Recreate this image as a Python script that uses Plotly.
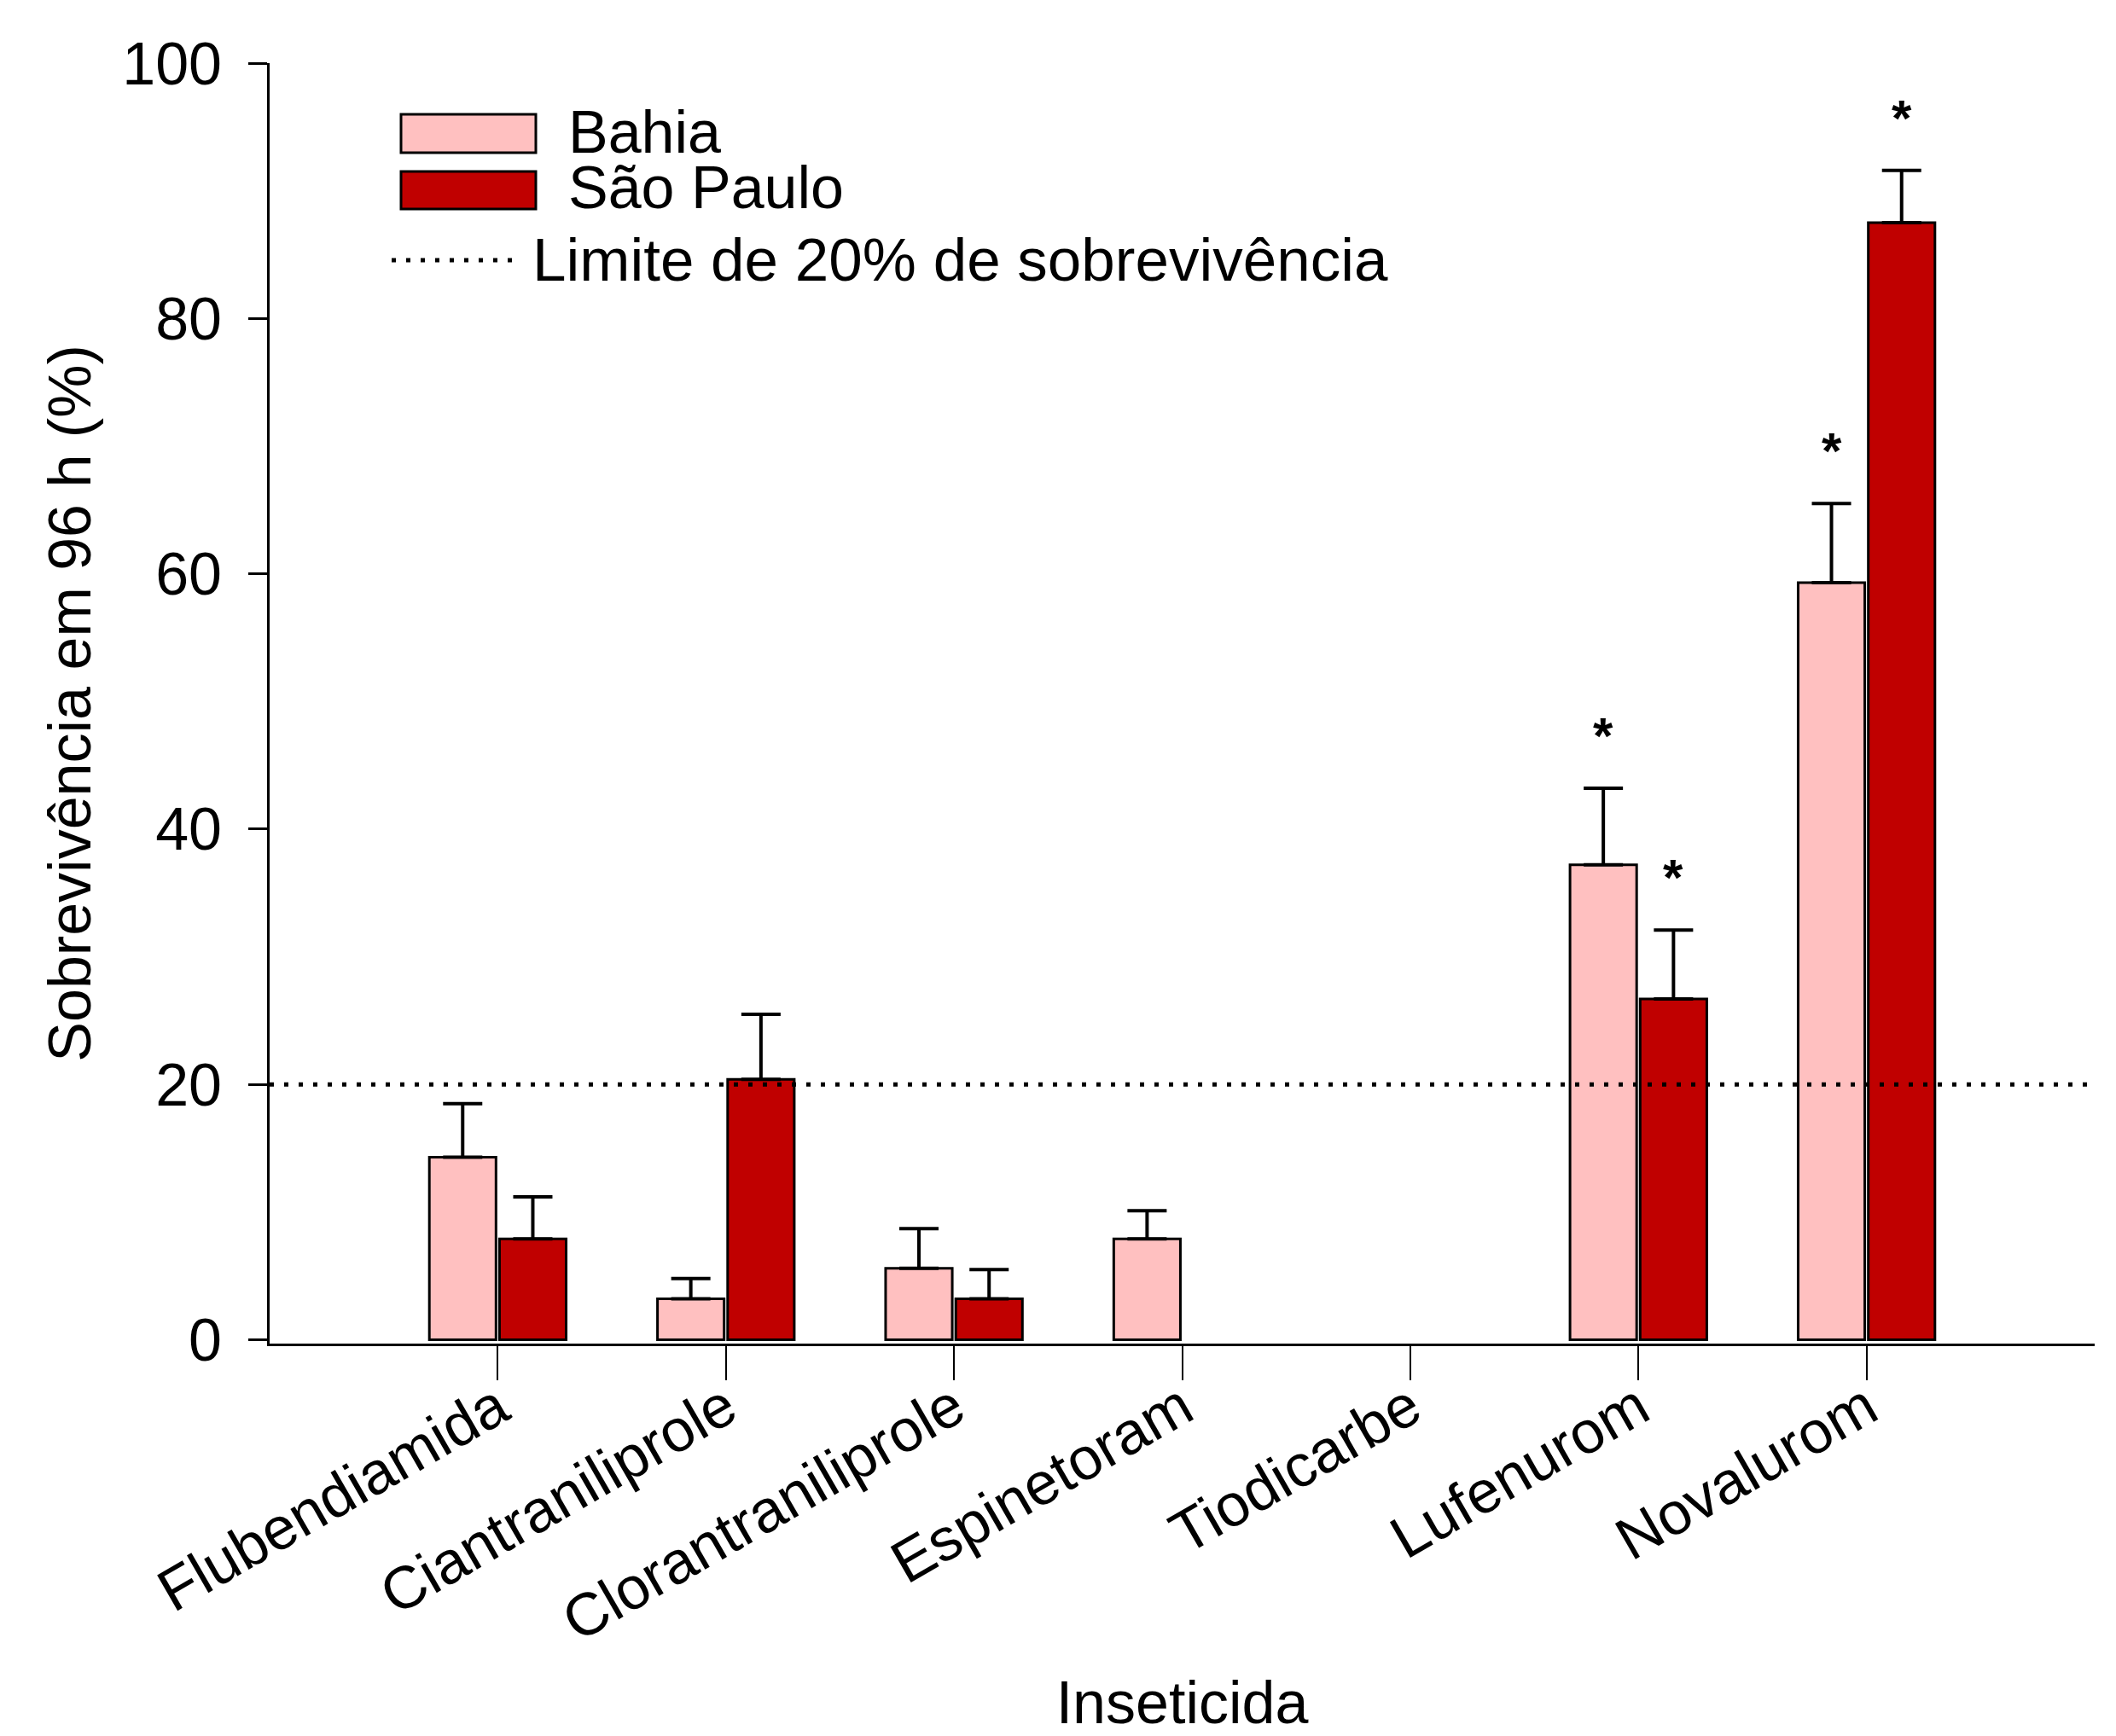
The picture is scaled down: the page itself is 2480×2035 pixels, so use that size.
import plotly.graph_objects as go

categories = ["Flubendiamida", "Ciantraniliprole", "Clorantraniliprole",
              "Espinetoram", "Tiodicarbe", "Lufenurom", "Novalurom"]
bahia = [14.3, 3.2, 5.6, 7.9, None, 37.2, 59.3]
bahia_err = [4.2, 1.6, 3.1, 2.2, None, 6.0, 6.2]
sao_paulo = [7.9, 20.4, 3.2, None, None, 26.7, 87.5]
sao_paulo_err = [3.3, 5.1, 2.3, None, None, 5.4, 4.1]
bahia_sig = [False, False, False, False, False, True, True]
sao_paulo_sig = [False, False, False, False, False, True, True]
limit_value = 20
y_ticks = [0, 20, 40, 60, 80, 100]

FONT = "Arial, Liberation Sans, sans-serif"
FS = 70
PINK = "#FFC0C0"
RED = "#C00000"
BARGAP = 0.385
GROUPGAP = 0.05

# page body has an 8px margin: figure size/margins compensate for it
W, H = 2472, 2027
ML, MR, MT, MB = 308, 25, 66, 460
PLOT_W = W - ML - MR
PLOT_H = H - MT - MB

fig = go.Figure()
for name, vals, errs, color in [("Bahia", bahia, bahia_err, PINK),
                                ("São Paulo", sao_paulo, sao_paulo_err, RED)]:
    fig.add_trace(go.Bar(
        x=categories, y=vals, name=name,
        marker=dict(color=color, line=dict(color="black", width=3)),
        error_y=dict(type="data", array=errs,
                     arrayminus=[0 if e is not None else None for e in errs],
                     symmetric=False, color="black", thickness=4, width=23),
        showlegend=False,
    ))

# limit line
fig.add_shape(type="line", xref="paper", x0=0, x1=1, yref="y", y0=limit_value, y1=limit_value,
              line=dict(color="black", width=5, dash="5px,12px"), layer="above")

# significance asterisks
slot = (1 - BARGAP) / 2
for vals, errs, sig, off in [(bahia, bahia_err, bahia_sig, -slot / 2),
                             (sao_paulo, sao_paulo_err, sao_paulo_sig, slot / 2)]:
    for i, (v, e, s) in enumerate(zip(vals, errs, sig)):
        if s:
            fig.add_annotation(x=i + off, y=v + e, xref="x", yref="y", text="<b>*</b>",
                               showarrow=False, yanchor="bottom", yshift=26,
                               font=dict(family=FONT, size=60, color="black"))

# manual legend (positions in page pixels -> paper)
def px2paper_x(X):
    return (X - 8 - ML) / PLOT_W

def px2paper_y(Y):
    return (H - MB + 8 - Y) / PLOT_H

for (y0, y1, color, label, ty) in [(134, 179, PINK, "Bahia", 155), (201, 245, RED, "São Paulo", 220)]:
    fig.add_shape(type="rect", xref="paper", yref="paper",
                  x0=px2paper_x(470), x1=px2paper_x(628), y0=px2paper_y(y1), y1=px2paper_y(y0),
                  fillcolor=color, line=dict(color="black", width=3), layer="above")
    fig.add_annotation(xref="paper", yref="paper", x=px2paper_x(664), y=px2paper_y(ty),
                       text=label, showarrow=False, xanchor="left", yanchor="middle",
                       font=dict(family=FONT, size=FS, color="black"))
fig.add_shape(type="line", xref="paper", yref="paper", x0=px2paper_x(459), x1=px2paper_x(601),
              y0=px2paper_y(305), y1=px2paper_y(305),
              line=dict(color="black", width=5, dash="5px,12px"), layer="above")
fig.add_annotation(xref="paper", yref="paper", x=px2paper_x(622), y=px2paper_y(304),
                   text="Limite de 20% de sobrevivência", showarrow=False, xanchor="left",
                   yanchor="middle", font=dict(family=FONT, size=71, color="black"))

fig.update_layout(
    width=W, height=H,
    margin=dict(l=ML, r=MR, t=MT, b=MB),
    paper_bgcolor="white", plot_bgcolor="white",
    barmode="group", bargap=BARGAP, bargroupgap=GROUPGAP,
    font=dict(family=FONT, size=FS, color="black"),
    showlegend=False,
)
fig.update_xaxes(
    type="category", range=[-1, 7], showline=True, linecolor="black", linewidth=3,
    ticks="outside", ticklen=40, tickwidth=2, tickcolor="black", tickangle=-30,
    showgrid=False, zeroline=False, automargin=False, ticklabelstandoff=-36,
    tickfont=dict(family=FONT, size=FS, color="black"),
    title=dict(text="Inseticida", standoff=52, font=dict(family=FONT, size=FS, color="black")),
)
fig.update_yaxes(
    range=[-0.3, 100], tickvals=y_ticks, showline=True, linecolor="black", linewidth=3,
    ticks="outside", ticklen=22, tickwidth=3, tickcolor="black",
    showgrid=False, zeroline=False, automargin=False, ticklabelstandoff=17,
    tickfont=dict(family=FONT, size=FS, color="black"),
    title=dict(text="Sobrevivência em 96 h (%)", standoff=14,
               font=dict(family=FONT, size=FS, color="black")),
)

fig.write_html("out.html")
